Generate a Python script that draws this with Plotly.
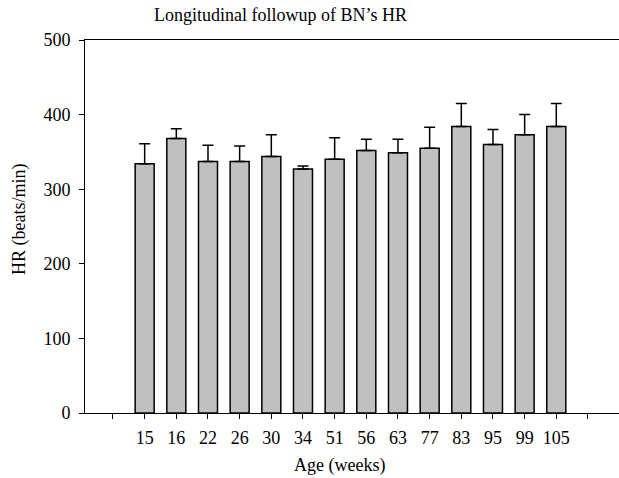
import plotly.graph_objects as go

ages = ["15", "16", "22", "26", "30", "34", "51", "56", "63", "77", "83", "95", "99", "105"]
hr_mean = [334, 368, 337, 337, 344, 327, 340, 352, 349, 355, 384, 360, 373, 384]
hr_err = [27, 13, 22, 21, 29, 4, 29, 15, 18, 28, 31, 20, 27, 31]

tick_text = [""] + ages + [""]
positions = list(range(1, len(ages) + 1))

FONT = "Liberation Serif"
FS = 18

fig = go.Figure()
fig.add_trace(go.Bar(
    x=positions, y=hr_mean, width=0.6,
    marker=dict(color="#c0c0c0", line=dict(color="black", width=1.5)),
    error_y=dict(type="data", array=hr_err, arrayminus=[0] * len(hr_err),
                 symmetric=False, color="black", thickness=1.5, width=5.5),
    showlegend=False,
))

fig.update_layout(
    width=619, height=478,
    margin=dict(l=85, r=0, t=40, b=65),
    plot_bgcolor="white", paper_bgcolor="white",
    font=dict(family=FONT, size=FS, color="black"),
    xaxis=dict(
        range=[-0.884, 15.98],
        tickmode="array", tickvals=list(range(len(tick_text))), ticktext=tick_text,
        ticks="outside", ticklen=5, tickwidth=1, tickcolor="black",
        showline=True, linecolor="black", linewidth=1, mirror=True,
        showgrid=False, zeroline=False,
        tickfont=dict(family=FONT, size=FS),
        ticklabelstandoff=3,
    ),
    yaxis=dict(
        range=[0, 500], tickvals=[0, 100, 200, 300, 400, 500],
        ticks="outside", ticklen=5, tickwidth=1, tickcolor="black",
        showline=True, linecolor="black", linewidth=1,
        showgrid=False, zeroline=False,
        tickfont=dict(family=FONT, size=FS),
        ticklabelstandoff=5,
    ),
    annotations=[
        dict(text="Longitudinal followup of BN’s HR", xref="paper", yref="paper",
             x=(280 - 85) / 534, y=1, yshift=13, xanchor="center", yanchor="bottom",
             showarrow=False, font=dict(family=FONT, size=FS)),
        dict(text="Age (weeks)", xref="paper", yref="paper",
             x=(339 - 85) / 534, y=0, yshift=-40, xanchor="center", yanchor="top",
             showarrow=False, font=dict(family=FONT, size=FS)),
        dict(text="HR (beats/min)", xref="paper", yref="paper",
             x=0, xshift=-66, y=(413 - 220) / 373, xanchor="center", yanchor="middle",
             textangle=-90, showarrow=False, font=dict(family=FONT, size=FS)),
    ],
)

fig.write_html("out.html")
